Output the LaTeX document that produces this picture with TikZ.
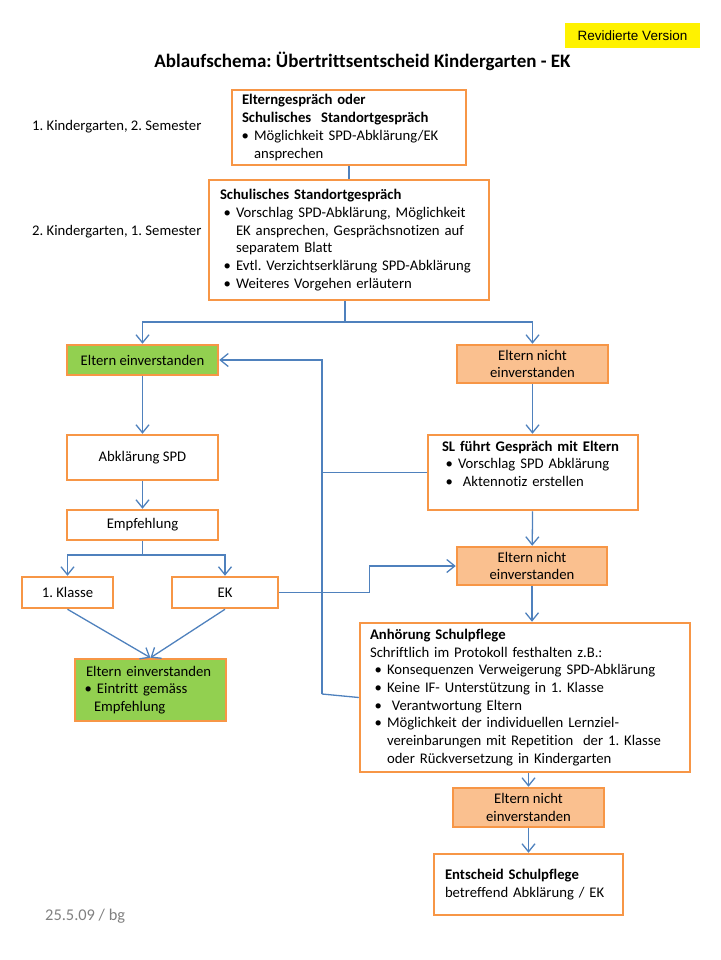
\documentclass[tikz,border=0pt]{standalone}
\usepackage{fontspec}
\setmainfont{Carlito}[Ligatures=NoCommon]
\newfontfamily\revfont{Liberation Sans}
\usetikzlibrary{arrows.meta}
\definecolor{boxorange}{HTML}{F79646}
\definecolor{nofill}{HTML}{FAC08F}
\definecolor{okfill}{HTML}{92D050}
\definecolor{lineblue}{HTML}{4F81BD}
\newcommand\bul[2][14pt]{\makebox[#1][r]{\textbullet\hspace{5pt}}#2}
\newcommand\cont[1][14pt]{\hspace*{#1}}
\frenchspacing
\begin{document}
\begin{tikzpicture}[x=1pt,y=1pt,>={Straight Barb[length=8pt,width=13pt]},
    every node/.style={font=\fontsize{14.7}{17.7}\selectfont},
    box/.style={draw=boxorange,line width=2.5pt,inner sep=0pt,align=center},
    conn/.style={draw=lineblue,line width=1.3pt}]
  \useasboundingbox (0,0) rectangle (720,-960);
  \node [fill=yellow,minimum width=135pt,minimum height=25pt,inner sep=0pt,
    font=\revfont\fontsize{13.5}{16}\selectfont] (rev) at (632.5,-35.5) {Revidierte Version};
  \node [font=\bfseries\fontsize{19}{23}\selectfont] (title) at (362.5,-61) {Ablaufschema: Übertrittsentscheid Kindergarten - EK};
  \node [anchor=west,inner sep=0pt] (sem1) at (32,-127) {1. Kindergarten, 2. Semester};
  \node [anchor=west,inner sep=0pt] (sem2) at (32,-232) {2. Kindergarten, 1. Semester};
  % obere Kaesten
  \node [box,align=left,minimum width=234pt,minimum height=75pt,text width=214pt] (gespr1) at (349,-127.5)
    {\textbf{Elterngespräch oder}\\\textbf{Schulisches\ \ Standortgespräch}\\
     \bul[12pt]{Möglichkeit SPD-Abklärung/EK}\\\cont[12pt]ansprechen};
  \node [box,align=left,minimum width=280pt,minimum height=120pt,text width=258pt] (gespr2) at (349,-240)
    {\textbf{Schulisches Standortgespräch}\\
     \bul[16pt]{Vorschlag SPD-Abklärung, Möglichkeit}\\\cont[16pt]EK ansprechen, Gesprächsnotizen auf\\
     \cont[16pt]separatem Blatt\\\bul[16pt]{Evtl. Verzichtserklärung SPD-Abklärung}\\
     \bul[16pt]{Weiteres Vorgehen erläutern}};
  % linke Seite
  \node [box,fill=okfill,minimum width=151pt,minimum height=30pt] (ja1) at (142.5,-360) {Eltern einverstanden};
  \node [box,minimum width=151pt,minimum height=45pt] (abkl) at (142.5,-457.5) {Abklärung SPD};
  \node [box,minimum width=151pt,minimum height=30pt] (empf) at (142.5,-525) {Empfehlung};
  \node [box,minimum width=91pt,minimum height=31pt] (kl1) at (67.5,-592.5) {1. Klasse};
  \node [box,minimum width=106pt,minimum height=31pt] (ek) at (225,-592.5) {EK};
  \node [box,fill=okfill,align=left,minimum width=151pt,minimum height=62pt,text width=129pt] (ja2) at (150.5,-690)
    {Eltern einverstanden\\\bul[11pt]{Eintritt gemäss}\\\cont[8pt]Empfehlung};
  % rechte Seite
  \node [box,fill=nofill,minimum width=151pt,minimum height=38pt] (nein1) at (532.5,-364) {Eltern nicht\\einverstanden};
  \node [box,align=left,minimum width=210pt,minimum height=75pt,text width=182pt] (sl) at (533,-472.5)
    {\textbf{SL führt Gespräch mit Eltern}\\\bul[16pt]{Vorschlag SPD Abklärung}\\
     \bul[16pt]{\ Aktennotiz erstellen}\\\mbox{}};
  \node [box,fill=nofill,minimum width=150pt,minimum height=38pt] (nein2) at (532,-566) {Eltern nicht\\einverstanden};
  \node [box,align=left,minimum width=330pt,minimum height=149pt,text width=310pt] (anh) at (525,-697.5)
    {\textbf{Anhörung Schulpflege}\\Schriftlich im Protokoll festhalten z.B.:\\
     \bul[17pt]{Konsequenzen Verweigerung SPD-Abklärung}\\\bul[17pt]{Keine IF- Unterstützung in 1. Klasse}\\
     \bul[17pt]{\ Verantwortung Eltern}\\\bul[17pt]{Möglichkeit der individuellen Lernziel-}\\
     \cont[17pt]vereinbarungen mit Repetition\ \ der 1. Klasse\\\cont[17pt]oder Rückversetzung in Kindergarten};
  \node [box,fill=nofill,minimum width=151pt,minimum height=39pt] (nein3) at (528.5,-807.5) {Eltern nicht\\einverstanden};
  \node [box,align=left,minimum width=189pt,minimum height=61pt,text width=167pt] (ents) at (528.5,-884.5)
    {\textbf{Entscheid Schulpflege}\\betreffend Abklärung / EK};
  \node [anchor=west,inner sep=0pt,text=black!50,font=\fontsize{16.4}{19}\selectfont] (datum) at (45,-916) {25.5.09 / bg};
  % Verbindungen
  \coordinate (split1) at (345,-322);
  \coordinate (split2) at (142.5,-555);
  \coordinate (loop) at (322,-694);
  \draw [conn] (gespr1) -- (gespr2);
  \draw [conn] (gespr2.south -| split1) -- (split1);
  \draw [conn,->] (split1) -| (ja1);
  \draw [conn,->] (split1) -| (nein1);
  \draw [conn,->] (ja1) -- (abkl);
  \draw [conn,->] (abkl) -- (empf);
  \draw [conn] (empf) -- (split2);
  \draw [conn,->] (split2) -| (kl1);
  \draw [conn,->] (split2) -| (ek);
  \draw [conn,->] (kl1.south) -- (ja2.north);
  \draw [conn,->] (ek.south) -- (ja2.north);
  \draw [conn,->] (ek.east) -- ++(90,0) |- (nein2);
  \draw [conn,->] (nein1.south) -- (nein1.south |- sl.north);
  \draw [conn,->] (sl) -- (nein2);
  \draw [conn,->] (nein2.south) -- (nein2.south |- anh.north);
  \draw [conn,->] (anh.south -| nein3) -- (nein3);
  \draw [conn,->] (nein3) -- (ents);
  \draw [conn] (anh.west) -- (loop);
  \draw [conn,->] (loop) |- (ja1);
  \draw [conn] (sl.west) -- (sl.west -| loop);
\end{tikzpicture}
\end{document}
